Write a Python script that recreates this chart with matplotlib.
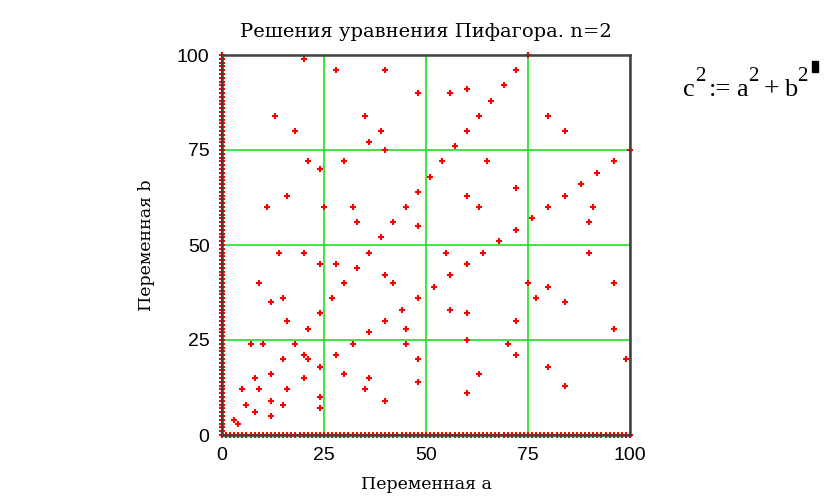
# Решения уравнения Пифагора a^2 + b^2 = c^2, точки (a, b) до 100

import matplotlib
matplotlib.use('Agg')
import matplotlib.pyplot as plt
from matplotlib.patches import Rectangle

# катеты: меньший и больший (рисуем обе перестановки)
leg_small = [3, 6, 9, 12, 15, 18, 21, 24, 27, 30, 33, 36, 39, 42, 45, 48, 51, 54, 57, 60,
             63, 66, 69, 72, 75,
             5, 10, 15, 20, 25, 30, 35, 40,
             8, 16, 24, 32, 40, 48,
             7, 14, 21, 28,
             20, 40, 60, 80,
             12, 24,
             9, 18,
             28, 56,
             11, 16, 33, 48, 13, 36, 39, 65, 20, 60]
leg_big = [4, 8, 12, 16, 20, 24, 28, 32, 36, 40, 44, 48, 52, 56, 60, 64, 68, 72, 76, 80,
           84, 88, 92, 96, 100,
           12, 24, 36, 48, 60, 72, 84, 96,
           15, 30, 45, 60, 75, 90,
           24, 48, 72, 96,
           21, 42, 63, 84,
           35, 70,
           40, 80,
           45, 90,
           60, 63, 56, 55, 84, 77, 80, 72, 99, 91]

# тривиальные решения: a = 0 или b = 0
axis_vals = list(range(0, 101))
zeros = [0] * len(axis_vals)

ticks = [0, 25, 50, 75, 100]

W, H = 825, 500
serif = ['DejaVu Serif']
fig = plt.figure(figsize=(W / 100, H / 100), dpi=100)
ax = fig.add_axes([222 / W, 1 - 435 / H, 408 / W, 380 / H])

ax.grid(True, color='#22dd22', linewidth=1.2)
ax.set_axisbelow(True)

mk = dict(linestyle='none', marker='+', color='#ff0000', markersize=5,
          markeredgewidth=1.5, clip_on=False)
ax.plot(leg_small, leg_big, **mk)
ax.plot(leg_big, leg_small, **mk)
ax.plot(zeros, axis_vals, **mk)
ax.plot(axis_vals, zeros, **mk)

ax.set_xlim(0, 100)
ax.set_ylim(0, 100)
ax.set_xticks(ticks)
ax.set_yticks(ticks)
ax.tick_params(length=0, labelsize=14, pad=9)
for lab in ax.get_xticklabels() + ax.get_yticklabels():
    lab.set_family('Liberation Sans')
for s in ax.spines.values():
    s.set_color('#404040')
    s.set_linewidth(1.8)

ax.set_title('Решения уравнения Пифагора. n=2', fontsize=14, family=serif, pad=13)
ax.set_xlabel('Переменная a', fontsize=12.5, family=serif, labelpad=8)
ax.set_ylabel('Переменная b', fontsize=12.5, family=serif, labelpad=16)


# формула справа сверху, по кусочкам (верхние индексы крупные)
def put(s, x, y, size):
    fig.text(x / W, 1 - y / H, s, fontsize=size, family=['Liberation Serif'],
             ha='left', va='baseline')


put('c', 683, 96, 19)
put('2', 695, 81, 15)
put(':=', 709, 96, 19)
put('a', 736, 96, 19)
put('2', 748, 81, 15)
put('+', 764, 96, 20)
put('b', 784, 96, 19)
put('2', 797, 81, 15)
fig.patches.append(Rectangle((812 / W, 1 - 72 / H), 6 / W, 11 / H,
                             transform=fig.transFigure, color='black'))

fig.savefig('out.png', dpi=100)
